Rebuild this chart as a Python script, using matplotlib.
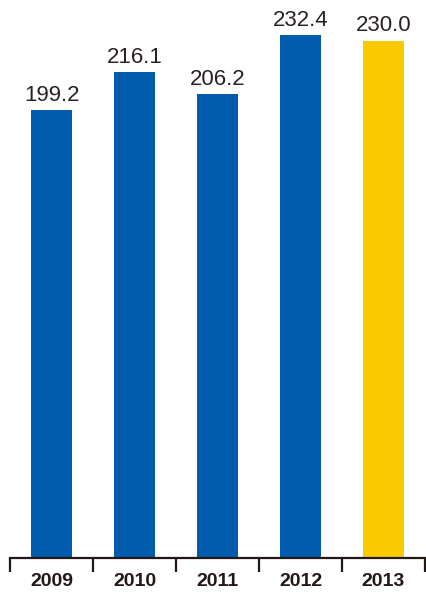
import matplotlib
matplotlib.use('Agg')
import matplotlib.pyplot as plt
import numpy as np

years = ['2009', '2010', '2011', '2012', '2013']
values = [199.2, 216.1, 206.2, 232.4, 230.0]
colors = ['#005BAC', '#005BAC', '#005BAC', '#005BAC', '#FBC900']

fig = plt.figure(figsize=(4.26, 5.97), dpi=100)
ax = fig.add_axes([10 / 426, 39 / 597, 415 / 426, 558 / 597])

x = np.arange(len(years))
bars = ax.bar(x, values, width=0.505, color=colors, zorder=2)

for xi, v in zip(x, values):
    ax.annotate(f'{v:.1f}', (xi, v), xytext=(0, 3), textcoords='offset points',
                ha='center', va='bottom', fontsize=16, color='#2a2220',
                family='Liberation Sans', fontweight='light')

ax.set_xlim(-0.5, len(years) - 0.5)
ax.set_ylim(0, 248)

# ticks at category boundaries, labels at centres
ax.set_xticks(np.arange(-0.5, len(years)), labels=[''] * (len(years) + 1))
ax.tick_params(axis='x', which='major', length=10, width=1.6, color='#231815', direction='out')
ax.set_xticks(x, minor=True)
ax.set_xticklabels(years, minor=True, fontsize=14, fontweight='bold',
                   color='#231815', family='Liberation Sans')
ax.tick_params(axis='x', which='minor', length=0, pad=11)
ax.set_yticks([])

for s in ['top', 'right', 'left']:
    ax.spines[s].set_visible(False)
ax.spines['bottom'].set_linewidth(1.6)
ax.spines['bottom'].set_color('#231815')

fig.savefig('out.png', dpi=100)
